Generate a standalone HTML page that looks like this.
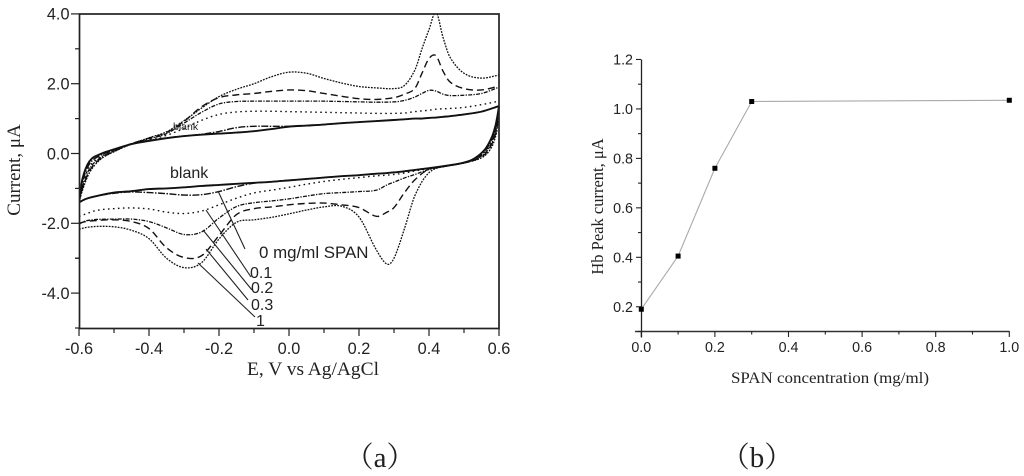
<!DOCTYPE html>
<html>
<head>
<meta charset="utf-8">
<style>
html,body{margin:0;padding:0;background:#fff;}
svg{display:block;filter:blur(0.35px);}
.sans{font-family:"Liberation Sans",sans-serif;fill:#222;}
.serif{font-family:"Liberation Serif","Noto Serif CJK SC",serif;fill:#222;}
</style>
</head>
<body>
<svg id="fig" xmlns="http://www.w3.org/2000/svg" width="1024" height="476" viewBox="0 0 1024 476">
  <defs><clipPath id="plotClip"><rect x="79" y="13" width="421" height="316"/></clipPath></defs>
  <g id="cvPlot">
    <g id="cvSeries" clip-path="url(#plotClip)"></g>
    <rect x="79.5" y="14" width="419.5" height="314.5" fill="none" stroke="#222" stroke-width="1.7"/>
    <g id="cvAxes"></g>
    <text class="serif" transform="translate(20,170) rotate(-90)" text-anchor="middle" font-size="19">Current, μA</text>
    <text class="serif" x="313" y="375" text-anchor="middle" font-size="19" textLength="132" lengthAdjust="spacingAndGlyphs">E, V vs Ag/AgCl</text>
    <text class="sans" x="170" y="178" font-size="16">blank</text>
    <text class="sans" x="173" y="130" font-size="10.5" fill="#444">blank</text>
    <text class="sans" x="259" y="258" font-size="16.9">0 mg/ml SPAN</text>
    <text class="sans" x="250" y="278" font-size="16">0.1</text>
    <text class="sans" x="251" y="293" font-size="16">0.2</text>
    <text class="sans" x="251" y="310" font-size="16">0.3</text>
    <text class="sans" x="256" y="326" font-size="16">1</text>
    <g stroke="#222" stroke-width="1.1">
      <line x1="218" y1="191" x2="245" y2="249"/>
      <line x1="206" y1="210" x2="251" y2="277"/>
      <line x1="203" y1="230" x2="252" y2="290"/>
      <line x1="206" y1="249" x2="248" y2="300"/>
      <line x1="198" y1="263" x2="255" y2="317"/>
    </g>
  </g>
  <g id="peakPlot">
    <g id="peakAxes"></g>
    <g id="peakSeries"></g>
    <text class="serif" transform="translate(603,206.5) rotate(-90)" text-anchor="middle" font-size="16.5">Hb Peak current, μA</text>
    <text class="serif" x="830" y="383" text-anchor="middle" font-size="15.5" textLength="198" lengthAdjust="spacingAndGlyphs">SPAN concentration (mg/ml)</text>
  </g>
  <text class="serif" x="380" y="467" text-anchor="middle" font-size="29">（a）</text>
  <text class="serif" x="757" y="467" text-anchor="middle" font-size="29">（b）</text>
</svg>
<script>
// Panel (a): cyclic voltammograms
const forwardE = [-0.6,-0.59,-0.57,-0.54,-0.5,-0.45,-0.4,-0.35,-0.3,-0.25,-0.2,-0.15,-0.1,-0.05,0,0.05,0.1,0.15,0.2,0.25,0.3,0.33,0.36,0.38,0.4,0.42,0.44,0.46,0.5,0.55,0.6];
const reverseE = [-0.6,-0.58,-0.55,-0.5,-0.45,-0.4,-0.35,-0.3,-0.25,-0.2,-0.15,-0.1,-0.05,0,0.05,0.1,0.15,0.2,0.25,0.28,0.3,0.33,0.36,0.4,0.45,0.5,0.53,0.56,0.58,0.59,0.595,0.6];

const blankForward = [-1.4,-0.72,-0.22,-0.02,0.12,0.27,0.36,0.44,0.5,0.54,0.57,0.6,0.64,0.7,0.77,0.8,0.83,0.87,0.9,0.93,0.96,0.98,1.0,1.0,1.02,1.03,1.05,1.07,1.12,1.2,1.36];
const blankReverse = [-1.4,-1.3,-1.22,-1.12,-1.08,-1.02,-1.0,-0.97,-0.93,-0.9,-0.87,-0.84,-0.81,-0.77,-0.73,-0.69,-0.65,-0.62,-0.58,-0.56,-0.54,-0.51,-0.47,-0.42,-0.35,-0.26,-0.14,0.12,0.48,0.8,1.05,1.36];

const span0Forward = [-1.4,-0.8,-0.3,-0.06,0.1,0.27,0.37,0.45,0.5,0.55,0.63,0.74,0.78,0.78,0.78,0.8,0.83,0.87,0.9,0.93,0.96,0.98,1.0,1.01,1.02,1.03,1.05,1.07,1.12,1.2,1.36];
const span0Reverse = [-1.4,-1.3,-1.22,-1.14,-1.1,-1.12,-1.15,-1.19,-1.18,-1.09,-0.95,-0.85,-0.81,-0.77,-0.73,-0.69,-0.65,-0.62,-0.58,-0.56,-0.54,-0.51,-0.47,-0.42,-0.36,-0.27,-0.16,0.07,0.42,0.74,1.0,1.36];

const span01Forward = [-1.4,-0.88,-0.38,-0.1,0.08,0.27,0.4,0.52,0.72,0.95,1.12,1.19,1.21,1.21,1.2,1.19,1.18,1.17,1.16,1.15,1.15,1.16,1.2,1.22,1.24,1.27,1.28,1.29,1.32,1.4,1.5];
const span01Reverse = [-1.8,-1.73,-1.63,-1.58,-1.56,-1.59,-1.68,-1.72,-1.65,-1.47,-1.28,-1.13,-1.05,-0.97,-0.88,-0.8,-0.74,-0.69,-0.64,-0.62,-0.6,-0.56,-0.5,-0.43,-0.36,-0.27,-0.17,0.04,0.38,0.68,0.94,1.36];

const span02Forward = [-1.4,-0.95,-0.44,-0.13,0.07,0.28,0.42,0.57,0.87,1.18,1.42,1.49,1.5,1.5,1.5,1.5,1.5,1.49,1.48,1.47,1.48,1.52,1.62,1.72,1.81,1.79,1.7,1.66,1.67,1.72,1.9];
const span02Reverse = [-2.02,-1.93,-1.89,-1.88,-1.88,-1.95,-2.13,-2.32,-2.25,-1.85,-1.52,-1.41,-1.36,-1.3,-1.22,-1.15,-1.12,-1.09,-1.05,-0.9,-0.82,-0.7,-0.6,-0.46,-0.36,-0.27,-0.18,0.01,0.32,0.62,0.88,1.33];

const span03Forward = [-1.4,-1.0,-0.5,-0.16,0.06,0.28,0.44,0.6,0.92,1.34,1.6,1.68,1.72,1.78,1.82,1.8,1.72,1.64,1.57,1.55,1.6,1.7,1.87,2.3,2.72,2.8,2.36,2.05,1.86,1.82,1.93];
const span03Reverse = [-2.0,-1.95,-1.92,-1.9,-1.95,-2.15,-2.7,-2.98,-2.93,-2.35,-1.75,-1.58,-1.53,-1.47,-1.43,-1.42,-1.47,-1.55,-1.8,-1.68,-1.55,-1.12,-0.75,-0.45,-0.36,-0.27,-0.19,-0.02,0.28,0.56,0.8,1.3];

const span1Forward = [-1.4,-1.05,-0.55,-0.18,0.05,0.27,0.45,0.62,0.94,1.3,1.63,1.84,2.0,2.2,2.33,2.3,2.15,2.02,1.92,1.88,1.86,1.95,2.4,3.0,3.55,4.05,3.33,2.76,2.3,2.16,2.25];
const span1Reverse = [-2.17,-2.12,-2.09,-2.1,-2.2,-2.44,-3.0,-3.27,-3.13,-2.45,-1.97,-1.9,-1.83,-1.73,-1.62,-1.53,-1.51,-1.82,-2.77,-3.17,-3.0,-2.15,-1.2,-0.55,-0.36,-0.27,-0.2,-0.06,0.2,0.48,0.72,1.26];

const cvYTicks = ["4.0","2.0","0.0","-2.0","-4.0"];
const cvXTicks = ["-0.6","-0.4","-0.2","0.0","0.2","0.4","0.6"];

// Panel (b): peak current vs concentration
const concentrations = [0,0.1,0.2,0.3,1];
const peakCurrents = [0.19,0.405,0.76,1.03,1.035];
const peakYTicks = ["0.2","0.4","0.6","0.8","1.0","1.2"];
const peakXTicks = ["0.0","0.2","0.4","0.6","0.8","1.0"];

const NS = "http://www.w3.org/2000/svg";
const cvX = e => 289 + e * 350;
const cvY = i => 153.5 - i * 34.9;
const peakX = c => 641.3 + c * 368;
const peakY = v => 331.5 - (v - 0.1) * 247.3;

function make(tag, parent, attrs, text) {
  const el = document.createElementNS(NS, tag);
  for (const k in attrs) el.setAttribute(k, attrs[k]);
  if (text !== undefined) el.textContent = text;
  parent.appendChild(el);
  return el;
}

function smooth(pts) {
  let d = "M" + pts[0][0].toFixed(2) + " " + pts[0][1].toFixed(2);
  for (let i = 0; i < pts.length - 1; i++) {
    const p0 = pts[Math.max(0, i - 1)], p1 = pts[i], p2 = pts[i + 1], p3 = pts[Math.min(pts.length - 1, i + 2)];
    const h = p2[0] - p1[0];
    const s1 = (p2[1] - p0[1]) / Math.max(p2[0] - p0[0], 0.01);
    const s2 = (p3[1] - p1[1]) / Math.max(p3[0] - p1[0], 0.01);
    const lim = 3 * Math.abs((p2[1] - p1[1]) / Math.max(h, 0.01)) + 0.5;
    const m1 = Math.max(-lim, Math.min(lim, s1)), m2 = Math.max(-lim, Math.min(lim, s2));
    d += " C" + (p1[0] + h / 3).toFixed(2) + " " + (p1[1] + m1 * h / 3).toFixed(2) + " " +
         (p2[0] - h / 3).toFixed(2) + " " + (p2[1] - m2 * h / 3).toFixed(2) + " " +
         p2[0].toFixed(2) + " " + p2[1].toFixed(2);
  }
  return d;
}

const cvStyles = [
  { fwd: span1Forward,  rev: span1Reverse,  dash: "1.8 1.2", w: 1.3 },
  { fwd: span03Forward, rev: span03Reverse, dash: "7 4",     w: 1.4 },
  { fwd: span02Forward, rev: span02Reverse, dash: "4 1.3 1.3 1.3", w: 1.3 },
  { fwd: span01Forward, rev: span01Reverse, dash: "1.6 3.4", w: 1.4 },
  { fwd: span0Forward,  rev: span0Reverse,  dash: "7 1.5 1.5 1.5", w: 1.4 },
  { fwd: blankForward,  rev: blankReverse,  dash: "none",    w: 1.9 }
];
const cvGroup = document.getElementById("cvSeries");
cvStyles.forEach(s => {
  const fwd = forwardE.map((e, i) => [cvX(e), cvY(s.fwd[i])]);
  const rev = reverseE.map((e, i) => [cvX(e), cvY(s.rev[i])]);
  const path = make("path", cvGroup, { d: smooth(fwd) + " " + smooth(rev), fill: "none", stroke: "#111", "stroke-width": s.w, "stroke-dasharray": s.dash });
  
  
});

const cvAxes = document.getElementById("cvAxes");
cvYTicks.forEach(t => {
  const v = parseFloat(t);
  const tick = make("line", cvAxes, { x1: 71, x2: 79, y1: cvY(v), y2: cvY(v), stroke: "#222", "stroke-width": 1.2 });
  
  
  const label = make("text", cvAxes, { x: 69.5, y: cvY(v) + 5.8, "text-anchor": "end", "font-size": 16.3, class: "sans" }, t);
  
  
  if (v > -4.5 && v < 4) {
    const minor = make("line", cvAxes, { x1: 75, x2: 79, y1: cvY(v + 1), y2: cvY(v + 1), stroke: "#222", "stroke-width": 1.2 });
    
    
  }
});
const minorBottom = make("line", cvAxes, { x1: 75, x2: 79, y1: cvY(-5), y2: cvY(-5), stroke: "#222", "stroke-width": 1.2 });


const minorLow = make("line", cvAxes, { x1: 75, x2: 79, y1: cvY(-3), y2: cvY(-3), stroke: "#222", "stroke-width": 1.2 });



cvXTicks.forEach((t, i) => {
  const v = parseFloat(t);
  const tick = make("line", cvAxes, { x1: cvX(v), x2: cvX(v), y1: 328, y2: 336, stroke: "#222", "stroke-width": 1.2 });
  
  
  const label = make("text", cvAxes, { x: cvX(v), y: 354, "text-anchor": "middle", "font-size": 16.3, class: "sans" }, t);
  
  
  if (i < cvXTicks.length - 1) {
    const minor = make("line", cvAxes, { x1: cvX(v + 0.1), x2: cvX(v + 0.1), y1: 328, y2: 333, stroke: "#222", "stroke-width": 1.2 });
    
    
  }
});

const peakAxes = document.getElementById("peakAxes");
const yAxisLine = make("line", peakAxes, { x1: 641.5, x2: 641.5, y1: peakY(1.2), y2: peakY(0.1) + 6, stroke: "#222", "stroke-width": 1.3 });


const xAxisLine = make("line", peakAxes, { x1: 635, x2: peakX(1), y1: 331.5, y2: 331.5, stroke: "#333", "stroke-width": 1.6 });



peakYTicks.forEach(t => {
  const v = parseFloat(t);
  const tick = make("line", peakAxes, { x1: 636, x2: 641, y1: peakY(v), y2: peakY(v), stroke: "#222", "stroke-width": 1.1 });
  
  
  const label = make("text", peakAxes, { x: 633, y: peakY(v) + 5, "text-anchor": "end", "font-size": 14.3, class: "sans" }, t);
  
  
  const minor = make("line", peakAxes, { x1: 638, x2: 641, y1: peakY(v - 0.1), y2: peakY(v - 0.1), stroke: "#222", "stroke-width": 1.1 });
  
  
});
peakXTicks.forEach((t, i) => {
  const v = parseFloat(t);
  const tick = make("line", peakAxes, { x1: peakX(v), x2: peakX(v), y1: 331, y2: 337, stroke: "#222", "stroke-width": 1.1 });
  
  
  const label = make("text", peakAxes, { x: peakX(v), y: 352, "text-anchor": "middle", "font-size": 14.3, class: "sans" }, t);
  
  
  if (i < peakXTicks.length - 1) {
    const minor = make("line", peakAxes, { x1: peakX(v + 0.1), x2: peakX(v + 0.1), y1: 331, y2: 334.5, stroke: "#222", "stroke-width": 1.1 });
    
    
  }
});

const peakSeries = document.getElementById("peakSeries");
const peakLine = make("polyline", peakSeries, { points: concentrations.map((c, i) => peakX(c) + "," + peakY(peakCurrents[i])).join(" "), fill: "none", stroke: "#aaa", "stroke-width": 1.1 });


concentrations.forEach((c, i) => {
  const pt = make("rect", peakSeries, { x: peakX(c) - 2.5, y: peakY(peakCurrents[i]) - 2.5, width: 5, height: 5, fill: "#000" });
  
  
});
</script>
</body>
</html>
